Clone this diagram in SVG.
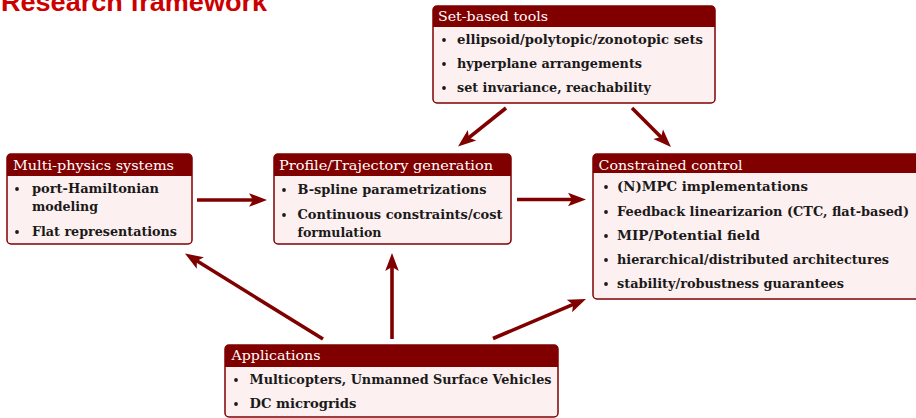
<svg xmlns="http://www.w3.org/2000/svg" width="916" height="418" viewBox="0 0 916 418">
<style>
.box{fill:#fdf0f0;stroke:#800000;stroke-width:1.5}
.hdr{fill:#800000}
.ht{font-family:"DejaVu Serif","Liberation Serif",serif;font-size:13.5px;fill:#ffffff}
.it{font-family:"DejaVu Serif","Liberation Serif",serif;font-size:13.5px;font-weight:bold;fill:#1a1a1a}
.bul{fill:#1a1a1a}
.arr{stroke:#800000;stroke-width:3.6;fill:none;marker-end:url(#ah)}
.title{font-family:"Liberation Sans",Arial,sans-serif;font-weight:bold;font-size:26px;fill:#cc0000}
</style>
<defs>
<marker id="ah" viewBox="-10 -8 22 16" refX="0" refY="0" markerWidth="22" markerHeight="16" markerUnits="userSpaceOnUse" orient="auto">
<path d="M10,0 L-8,-6.8 L-4,0 L-8,6.8 Z" fill="#800000"/>
</marker>
</defs>
<text class="title" x="1" y="11" textLength="266" lengthAdjust="spacingAndGlyphs">Research framework</text>

<g id="connectors">
<line class="arr" x1="506" y1="108" x2="465.8" y2="140.2"/>
<line class="arr" x1="632" y1="108" x2="663.9" y2="139.9"/>
<line class="arr" x1="197" y1="200" x2="257" y2="200"/>
<line class="arr" x1="517" y1="199.5" x2="576" y2="199.5"/>
<line class="arr" x1="323" y1="339" x2="193.5" y2="258.8"/>
<line class="arr" x1="392" y1="339" x2="392" y2="263"/>
<line class="arr" x1="493" y1="338.5" x2="576.8" y2="302.9"/>
</g>

<g id="setbased">
<rect class="box" x="433" y="6" width="282" height="97" rx="4"/>
<path class="hdr" d="M433,27 V10 A4,4 0 0 1 437,6 H711 A4,4 0 0 1 715,10 V27 Z"/>
<text class="ht" x="438" y="21" textLength="110" lengthAdjust="spacingAndGlyphs">Set-based tools</text>
<circle class="bul" cx="444" cy="40" r="1.9"/>
<text class="it" x="457" y="44" textLength="246" lengthAdjust="spacingAndGlyphs">ellipsoid/polytopic/zonotopic sets</text>
<circle class="bul" cx="444" cy="64" r="1.9"/>
<text class="it" x="457" y="68" textLength="185" lengthAdjust="spacingAndGlyphs">hyperplane arrangements</text>
<circle class="bul" cx="444" cy="88" r="1.9"/>
<text class="it" x="457" y="92" textLength="194" lengthAdjust="spacingAndGlyphs">set invariance, reachability</text>
</g>

<g id="multiphysics">
<rect class="box" x="7" y="154" width="185" height="90" rx="4"/>
<path class="hdr" d="M7,176 V158 A4,4 0 0 1 11,154 H188 A4,4 0 0 1 192,158 V176 Z"/>
<text class="ht" x="13" y="170" textLength="161" lengthAdjust="spacingAndGlyphs">Multi-physics systems</text>
<circle class="bul" cx="17" cy="189" r="1.9"/>
<text class="it" x="32" y="193" textLength="127" lengthAdjust="spacingAndGlyphs">port-Hamiltonian</text>
<text class="it" x="32" y="211" textLength="66" lengthAdjust="spacingAndGlyphs">modeling</text>
<circle class="bul" cx="17" cy="232" r="1.9"/>
<text class="it" x="32" y="236" textLength="145" lengthAdjust="spacingAndGlyphs">Flat representations</text>
</g>

<g id="profile">
<rect class="box" x="274" y="154" width="237" height="90" rx="4"/>
<path class="hdr" d="M274,176 V158 A4,4 0 0 1 278,154 H507 A4,4 0 0 1 511,158 V176 Z"/>
<text class="ht" x="279" y="170" textLength="214" lengthAdjust="spacingAndGlyphs">Profile/Trajectory generation</text>
<circle class="bul" cx="284" cy="190" r="1.9"/>
<text class="it" x="297.5" y="194" textLength="189" lengthAdjust="spacingAndGlyphs">B-spline parametrizations</text>
<circle class="bul" cx="284" cy="215" r="1.9"/>
<text class="it" x="297.5" y="219" textLength="205" lengthAdjust="spacingAndGlyphs">Continuous constraints/cost</text>
<text class="it" x="297.5" y="237" textLength="84" lengthAdjust="spacingAndGlyphs">formulation</text>
</g>

<g id="constrained">
<rect class="box" x="593" y="154" width="330" height="145" rx="4"/>
<path class="hdr" d="M593,173 V158 A4,4 0 0 1 597,154 H919 A4,4 0 0 1 923,158 V173 Z"/>
<text class="ht" x="598.5" y="170" textLength="144" lengthAdjust="spacingAndGlyphs">Constrained control</text>
<circle class="bul" cx="606" cy="187" r="1.9"/>
<text class="it" x="617" y="191" textLength="191" lengthAdjust="spacingAndGlyphs">(N)MPC implementations</text>
<circle class="bul" cx="606" cy="212" r="1.9"/>
<text class="it" x="617" y="216" textLength="292" lengthAdjust="spacingAndGlyphs">Feedback linearizarion (CTC, flat-based)</text>
<circle class="bul" cx="606" cy="236" r="1.9"/>
<text class="it" x="617" y="240" textLength="143" lengthAdjust="spacingAndGlyphs">MIP/Potential field</text>
<circle class="bul" cx="606" cy="260" r="1.9"/>
<text class="it" x="617" y="264" textLength="272" lengthAdjust="spacingAndGlyphs">hierarchical/distributed architectures</text>
<circle class="bul" cx="606" cy="284" r="1.9"/>
<text class="it" x="617" y="288" textLength="227" lengthAdjust="spacingAndGlyphs">stability/robustness guarantees</text>
</g>

<g id="applications">
<rect class="box" x="225" y="345" width="333" height="72" rx="4"/>
<path class="hdr" d="M225,367 V349 A4,4 0 0 1 229,345 H554 A4,4 0 0 1 558,349 V367 Z"/>
<text class="ht" x="231.5" y="360" textLength="89" lengthAdjust="spacingAndGlyphs">Applications</text>
<circle class="bul" cx="236" cy="380" r="1.9"/>
<text class="it" x="249.5" y="384" textLength="302" lengthAdjust="spacingAndGlyphs">Multicopters, Unmanned Surface Vehicles</text>
<circle class="bul" cx="236" cy="404" r="1.9"/>
<text class="it" x="249.5" y="408" textLength="107" lengthAdjust="spacingAndGlyphs">DC microgrids</text>
</g>
</svg>
